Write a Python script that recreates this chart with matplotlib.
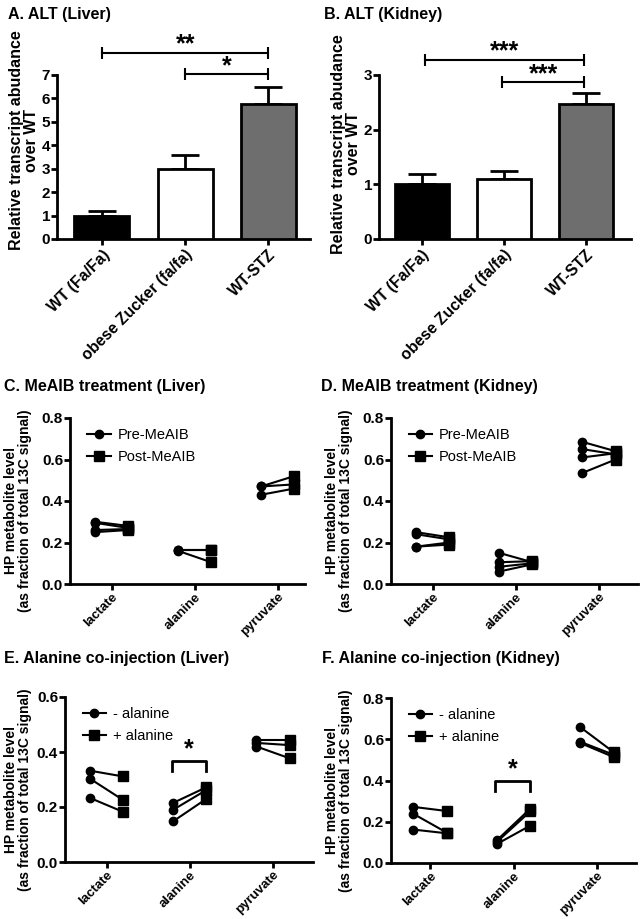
import matplotlib
matplotlib.use('Agg')
import matplotlib.pyplot as plt
import numpy as np

plt.rcParams['font.family'] = ['Liberation Sans', 'DejaVu Sans']

# --- data: ALT transcript abundance (A, B)
groups = ['WT (Fa/Fa)', 'obese Zucker (fa/fa)', 'WT-STZ']
bar_colors = ['black', 'white', '#6e6e6e']
liver_mean = [1.0, 2.97, 5.75]
liver_err = [0.2, 0.63, 0.75]
kidney_mean = [1.0, 1.1, 2.47]
kidney_err = [0.18, 0.15, 0.2]

metabolites = ['lactate', 'alanine', 'pyruvate']

# --- data: MeAIB treatment (C liver, D kidney), pre -> post pairs
c_pre = [[0.30, 0.295, 0.26, 0.25], [0.165, 0.165, 0.16], [0.47, 0.47, 0.43]]
c_post = [[0.28, 0.27, 0.265, 0.26], [0.165, 0.165, 0.105], [0.52, 0.48, 0.46]]
d_pre = [[0.25, 0.24, 0.18, 0.18], [0.15, 0.105, 0.083, 0.06], [0.685, 0.65, 0.61, 0.535]]
d_post = [[0.225, 0.215, 0.19, 0.20], [0.105, 0.11, 0.10, 0.095], [0.64, 0.625, 0.63, 0.60]]

# --- data: alanine co-injection (E liver, F kidney)
e_pre = [[0.332, 0.303, 0.233], [0.215, 0.19, 0.148], [0.442, 0.433, 0.42]]
e_post = [[0.311, 0.225, 0.182], [0.272, 0.262, 0.23], [0.442, 0.425, 0.377]]
f_pre = [[0.272, 0.238, 0.162], [0.11, 0.102, 0.092], [0.659, 0.588, 0.582]]
f_post = [[0.252, 0.147, 0.144], [0.263, 0.25, 0.181], [0.538, 0.525, 0.514]]

W, H = 642, 919
fig = plt.figure(figsize=(W / 100, H / 100), dpi=100)


def box(left, right, top, bottom):
    return [left / W, 1 - bottom / H, (right - left) / W, (bottom - top) / H]


def style(ax, xpad=2):
    for s in ['top', 'right']:
        ax.spines[s].set_visible(False)
    for s in ['left', 'bottom']:
        ax.spines[s].set_linewidth(2)
    ax.tick_params(width=2, length=4)
    ax.tick_params(axis='y', pad=1, labelsize=11)
    ax.tick_params(axis='x', pad=xpad)
    for lab in ax.get_yticklabels():
        lab.set_fontweight('bold')


def bar_panel(rect, mean, err, ylim, ticks, xlim, sig, lab_x, lab_y):
    ax = fig.add_axes(rect)
    x = np.arange(len(groups))
    ax.bar(x, mean, width=0.66, color=bar_colors, edgecolor='black', linewidth=2, zorder=3)
    ax.errorbar(x, mean, yerr=[np.zeros(len(err)), err], fmt='none', ecolor='black',
                elinewidth=2, capsize=10, capthick=2, zorder=2)
    ax.set_xlim(*xlim)
    ax.set_ylim(*ylim)
    ax.set_yticks(ticks)
    ax.set_xticks(x)
    ax.set_xticklabels(groups, rotation=45, ha='right', rotation_mode='anchor',
                       fontsize=11.3, fontweight='bold')
    ax.set_ylabel('Relative transcript abudance\nover WT', fontsize=11.5, fontweight='bold',
                  linespacing=1.0)
    ax.yaxis.set_label_coords(lab_x, lab_y)
    style(ax)
    for x0, x1, yl, ys, txt in sig:
        ax.plot([x0, x1], [yl, yl], color='black', lw=1.5, clip_on=False)
        ax.plot([x0, x1], [yl, yl], ls='none', marker='|', ms=9, mew=1.5, color='black', clip_on=False)
        ax.text((x0 + x1) / 2, ys, txt, ha='center', va='center', fontsize=18, fontweight='bold')
    return ax


bar_panel(box(57, 310, 75, 239), liver_mean, liver_err, (0, 7), range(0, 8),
          (-0.54, 2.5), [(0, 2, 7.94, 8.3, '**'), (1, 2, 7.04, 7.38, '*')], -0.073, 0.6)
bar_panel(box(379, 631, 75, 239), kidney_mean, kidney_err, (0, 3), range(0, 4),
          (-0.52, 2.55), [(0.04, 1.98, 3.27, 3.43, '***'), (0.98, 1.98, 2.87, 3.02, '***')],
          -0.073, 0.58)

tsize = 11.5
fig.text(8 / W, 1 - 14 / H, 'A. ALT (Liver)', fontsize=tsize, fontweight='bold', va='center')
fig.text(324 / W, 1 - 14 / H, 'B. ALT (Kidney)', fontsize=tsize, fontweight='bold', va='center')


def pair_panel(rect, pre, post, ylim, ticks, xlim, labels, lab_x, bracket=None):
    ax = fig.add_axes(rect)
    for i in range(len(metabolites)):
        for a, b in zip(pre[i], post[i]):
            ax.plot([i - 0.2, i + 0.2], [a, b], color='black', lw=1.5, zorder=2)
        ax.plot([i - 0.2] * len(pre[i]), pre[i], 'o', color='black', ms=6, zorder=3)
        ax.plot([i + 0.2] * len(post[i]), post[i], 's', color='black', ms=7, zorder=3)
    h1, = ax.plot([], [], '-o', color='black', lw=1.5, ms=6)
    h2, = ax.plot([], [], '-s', color='black', lw=1.5, ms=7)
    ax.legend([h1, h2], labels, loc='upper left', bbox_to_anchor=(0.03, 1.0), frameon=False,
              fontsize=10.5, handlelength=1.6, handletextpad=0.5, labelspacing=0.55,
              borderaxespad=0.3)
    ax.set_xlim(*xlim)
    ax.set_ylim(*ylim)
    ax.set_yticks(ticks)
    ax.set_yticklabels(['%.1f' % t for t in ticks])
    ax.set_xticks(range(len(metabolites)))
    ax.set_xticklabels(metabolites, rotation=45, ha='right', rotation_mode='anchor',
                       fontsize=9.5, fontweight='bold')
    ax.set_ylabel('HP metabolite level\n(as fraction of total 13C signal)', fontsize=10,
                  fontweight='bold', linespacing=1.0)
    ax.yaxis.set_label_coords(lab_x, 0.44)
    style(ax, xpad=1)
    if bracket is not None:
        xc, top, leg, ys = bracket
        ax.plot([xc - 0.22, xc - 0.22, xc + 0.2, xc + 0.2], [leg, top, top, leg],
                color='black', lw=2)
        ax.text(xc - 0.01, ys, '*', ha='center', va='center', fontsize=18, fontweight='bold')
    return ax


pair_panel(box(70, 305, 418, 584), c_pre, c_post, (0, 0.8), [0, 0.2, 0.4, 0.6, 0.8],
           (-0.5, 2.33), ['Pre-MeAIB', 'Post-MeAIB'], -0.16)
pair_panel(box(391, 638, 418, 584), d_pre, d_post, (0, 0.8), [0, 0.2, 0.4, 0.6, 0.8],
           (-0.5, 2.47), ['Pre-MeAIB', 'Post-MeAIB'], -0.153)
pair_panel(box(65, 313, 697, 862), e_pre, e_post, (0, 0.6), [0, 0.2, 0.4, 0.6],
           (-0.5, 2.48), ['- alanine', '+ alanine'], -0.133, bracket=(1, 0.368, 0.33, 0.41))
pair_panel(box(391, 636, 698, 863), f_pre, f_post, (0, 0.8), [0, 0.2, 0.4, 0.6, 0.8],
           (-0.47, 2.47), ['- alanine', '+ alanine'], -0.155, bracket=(1, 0.40, 0.35, 0.452))

fig.text(4 / W, 1 - 387 / H, 'C. MeAIB treatment (Liver)', fontsize=tsize, fontweight='bold', va='center')
fig.text(321 / W, 1 - 387 / H, 'D. MeAIB treatment (Kidney)', fontsize=tsize, fontweight='bold', va='center')
fig.text(4 / W, 1 - 659 / H, 'E. Alanine co-injection (Liver)', fontsize=tsize, fontweight='bold', va='center')
fig.text(322 / W, 1 - 658 / H, 'F. Alanine co-injection (Kidney)', fontsize=tsize, fontweight='bold', va='center')

fig.savefig('out.png', dpi=100)
